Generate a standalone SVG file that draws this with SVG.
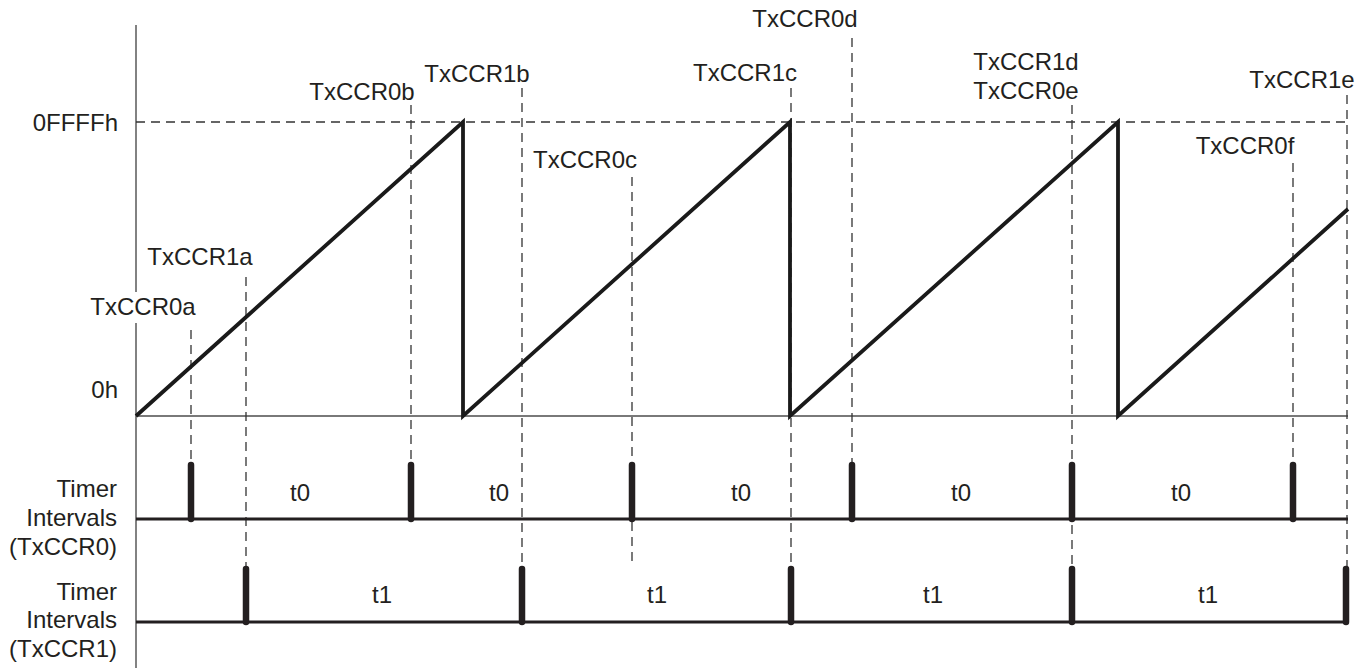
<svg xmlns="http://www.w3.org/2000/svg" width="1367" height="668" viewBox="0 0 1367 668">
<style>
text{font-family:"Liberation Sans",Arial,sans-serif;font-size:24px;fill:#231f20}
.r{text-anchor:end}
.m{text-anchor:middle}
.axis{stroke:#4d4d4d;stroke-width:1.4;fill:none}
.dash{stroke:#333;stroke-width:1.3;stroke-dasharray:9 6;fill:none}
.ramp{stroke:#1a1a1a;stroke-width:3.8;fill:none;stroke-linejoin:miter}
.base{stroke:#231f20;stroke-width:3;fill:none}
.pulse{stroke:#231f20;stroke-width:6.5;stroke-linecap:round;fill:none}
</style>
<rect width="1367" height="668" fill="#fff"/>
<g id="axes">
<line class="axis" x1="136" y1="25" x2="136" y2="668"/>
<line class="axis" x1="136" y1="416" x2="1348" y2="416"/>
</g>
<g id="connectors">
<line class="dash" x1="136" y1="122" x2="1348" y2="122"/>
<line class="dash" x1="191" y1="330" x2="191" y2="463"/>
<line class="dash" x1="246" y1="277" x2="246" y2="567"/>
<line class="dash" x1="411" y1="105" x2="411" y2="463"/>
<line class="dash" x1="522" y1="88" x2="522" y2="567"/>
<line class="dash" x1="632" y1="177" x2="632" y2="561"/>
<line class="dash" x1="791" y1="88" x2="791" y2="567"/>
<line class="dash" x1="852" y1="38" x2="852" y2="463"/>
<line class="dash" x1="1072" y1="105" x2="1072" y2="567"/>
<line class="dash" x1="1293" y1="163" x2="1293" y2="463"/>
<line class="dash" x1="1347" y1="95" x2="1347" y2="567"/>
</g>
<g id="ramp">
<path class="ramp" d="M136,416 L463,122 L463,416 L790,122 L790,416 L1118,122 L1118,416 L1348,209"/>
</g>
<g id="yaxis-labels">
<text class="r" x="118" y="131">0FFFFh</text>
<text class="r" x="118" y="398">0h</text>
</g>
<g id="ccr-labels">
<rect x="90" y="292" width="106" height="31" fill="#fff"/>
<text class="m" x="143" y="315">TxCCR0a</text>
<text class="m" x="200" y="265">TxCCR1a</text>
<text class="m" x="362" y="100">TxCCR0b</text>
<text class="m" x="477" y="82">TxCCR1b</text>
<text class="m" x="585" y="168">TxCCR0c</text>
<text class="m" x="745" y="81">TxCCR1c</text>
<text class="m" x="805" y="27">TxCCR0d</text>
<text class="m" x="1026" y="70">TxCCR1d</text>
<text class="m" x="1026" y="99">TxCCR0e</text>
<text class="m" x="1245" y="154">TxCCR0f</text>
<text class="m" x="1302" y="88">TxCCR1e</text>
</g>
<g id="row-ccr0">
<text class="r" x="117" y="497">Timer</text>
<text class="r" x="117" y="526">Intervals</text>
<text class="r" x="117" y="555">(TxCCR0)</text>
<line class="base" x1="136" y1="519" x2="1348" y2="519"/>
<line class="pulse" x1="191" y1="465" x2="191" y2="519"/>
<line class="pulse" x1="411" y1="465" x2="411" y2="519"/>
<line class="pulse" x1="632" y1="465" x2="632" y2="519"/>
<line class="pulse" x1="852" y1="465" x2="852" y2="519"/>
<line class="pulse" x1="1072" y1="465" x2="1072" y2="519"/>
<line class="pulse" x1="1293" y1="465" x2="1293" y2="519"/>
<text class="m" x="300" y="501">t0</text>
<text class="m" x="499" y="501">t0</text>
<text class="m" x="741" y="501">t0</text>
<text class="m" x="961" y="501">t0</text>
<text class="m" x="1181" y="501">t0</text>
</g>
<g id="row-ccr1">
<text class="r" x="117" y="600">Timer</text>
<text class="r" x="117" y="628">Intervals</text>
<text class="r" x="117" y="657">(TxCCR1)</text>
<line class="base" x1="136" y1="622" x2="1346" y2="622"/>
<line class="pulse" x1="246" y1="569" x2="246" y2="622"/>
<line class="pulse" x1="522" y1="569" x2="522" y2="622"/>
<line class="pulse" x1="791" y1="569" x2="791" y2="622"/>
<line class="pulse" x1="1072" y1="569" x2="1072" y2="622"/>
<line class="pulse" x1="1346" y1="569" x2="1346" y2="622"/>
<text class="m" x="382" y="603">t1</text>
<text class="m" x="657" y="603">t1</text>
<text class="m" x="933" y="603">t1</text>
<text class="m" x="1208" y="603">t1</text>
</g>
</svg>
